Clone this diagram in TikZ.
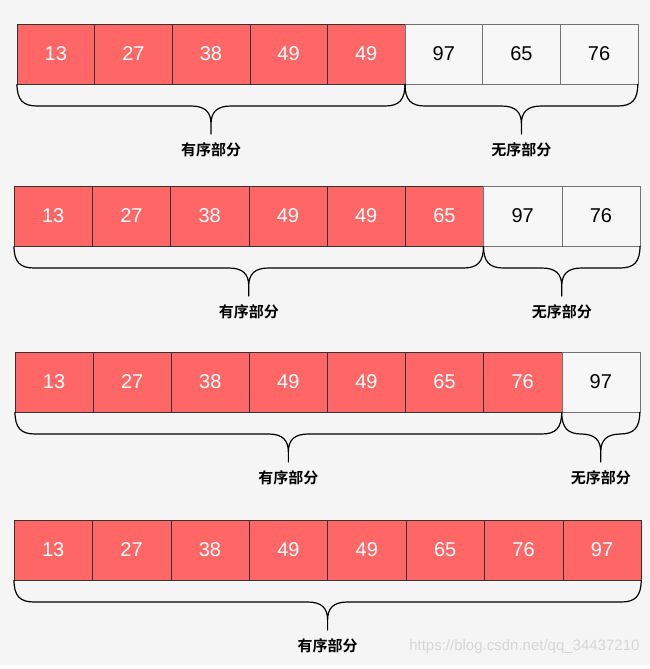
\documentclass[tikz,border=0pt]{standalone}
\usepackage{fontspec}
\setmainfont{Liberation Sans}
\newfontfamily\cjk{Noto Sans CJK SC}[BoldFont={Noto Sans CJK SC Bold}]
\usetikzlibrary{calc}
\definecolor{sortred}{HTML}{FF6666}
\definecolor{cellgray}{HTML}{F7F7F7}
\definecolor{paper}{HTML}{F5F5F5}

% brace under the cells #1 .. #2, with its label #3
\newcommand\partbrace[3]{%
  \draw[partbrace] let \p1=(#1.south west), \p2=(#2.south east),
      \p3=($(\p1)!.5!(\p2)$) in
    (\p1) .. controls (\x1,\y1-16pt) and (\x1+6pt,\y1-22pt) .. (\x1+20pt,\y1-22pt)
    -- (\x3-20pt,\y1-22pt) .. controls (\x3-6pt,\y1-22pt) and (\x3,\y1-28pt) .. (\x3,\y1-40pt)
    -- (\x3,\y1-50pt) -- (\x3,\y1-40pt)
    .. controls (\x3,\y1-28pt) and (\x3+6pt,\y1-22pt) .. (\x3+20pt,\y1-22pt)
    -- (\x2-20pt,\y1-22pt) .. controls (\x2-6pt,\y1-22pt) and (\x2,\y1-16pt) .. (\p2)
    (\x3,\y1-66pt) node[partlabel] {#3};
}

\begin{document}
\begin{tikzpicture}[x=1pt,y=-1pt,
        every node/.style={font=\fontsize{20}{24}\selectfont},
        done/.style={draw=black!80, fill=sortred, text=white, minimum height=60pt, inner sep=0pt, outer sep=0pt, anchor=north west},
        free/.style={done, draw=black!55, fill=cellgray, text=black},
        partbrace/.style={line width=1.2pt, line join=round},
        partlabel/.style={font=\cjk\bfseries\fontsize{15}{17}\selectfont}
    ]
    \fill[paper] (0,0) rectangle (650,665);
    \useasboundingbox (0,0) rectangle (650,669);

    % row / left / top / cell width / sorted count / values
    \foreach \r/\x/\y/\w/\k/\vals in {
        1/17/24/77.6/5/{13,27,38,49,49,97,65,76},
        2/14/186/78.25/6/{13,27,38,49,49,65,97,76},
        3/15/352/78.1/7/{13,27,38,49,49,65,76,97},
        4/14/520/78.4/8/{13,27,38,49,49,65,76,97}}{
        \foreach \v [count=\i] in \vals {
            \ifnum\i>\k \def\sty{free}\else\def\sty{done}\fi
            \node[\sty, minimum width=\w pt] (r\r-\i) at ({\x+(\i-1)*\w},\y) {\v};
        }
    }

    \partbrace{r1-1}{r1-5}{有序部分}
    \partbrace{r1-6}{r1-8}{无序部分}
    \partbrace{r2-1}{r2-6}{有序部分}
    \partbrace{r2-7}{r2-8}{无序部分}
    \partbrace{r3-1}{r3-7}{有序部分}
    \partbrace{r3-8}{r3-8}{无序部分}
    \partbrace{r4-1}{r4-8}{有序部分}

    \node[anchor=east, text=black!16, font=\fontsize{15}{17}\selectfont] (mark) at (643,647) {https://blog.csdn.net/qq\_34437210};
\end{tikzpicture}
\end{document}
